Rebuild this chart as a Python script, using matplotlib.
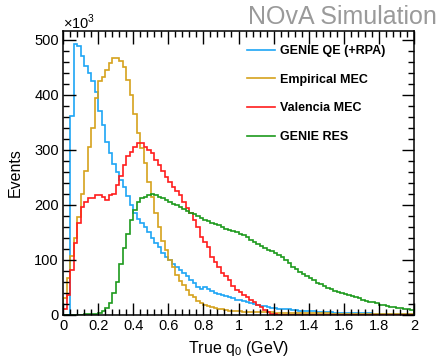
import numpy as np
import matplotlib
matplotlib.use("Agg")
import matplotlib.pyplot as plt
from matplotlib.ticker import MultipleLocator

plt.rcParams['font.family'] = ['Liberation Sans', 'DejaVu Sans']
plt.rcParams['mathtext.fontset'] = 'custom'
plt.rcParams['mathtext.rm'] = 'Liberation Sans'

# 100 bins of 0.02 GeV, values in thousands of events
edges = np.linspace(0, 2, 101)

qe = [0, 0, 362, 493, 488, 470, 452, 440, 425, 405,
      370, 345, 315, 295, 275, 260, 246, 232, 216, 200,
      185, 175, 167, 160, 150, 140, 130, 124, 112, 106,
      100, 92, 88, 82, 76, 70, 64, 58, 50, 48,
      50, 48, 43, 40, 38, 36, 34, 32, 30, 28,
      27, 25, 23, 21, 20, 18, 17, 16, 14, 13,
      12, 11, 11, 10, 10, 9, 9, 8, 8, 8,
      7, 7, 6, 6, 5, 5, 5, 4, 4, 4,
      4, 3, 3, 3, 3, 3, 3, 3, 2, 2,
      2, 2, 2, 2, 2, 2, 2, 2, 2, 2]

emp_mec = [31, 68, 108, 140, 178, 220, 262, 305, 340, 395,
           425, 432, 445, 457, 467, 467, 462, 450, 427, 400,
           365, 330, 303, 276, 242, 215, 185, 160, 135, 118,
           100, 88, 72, 62, 55, 45, 37, 32, 26, 22,
           19, 16, 14, 12, 11, 10, 9, 8, 8, 7,
           7, 6, 6, 6, 5, 5, 5, 5, 5, 5,
           4, 4, 4, 4, 4, 4, 3, 3, 3, 3,
           3, 3, 3, 3, 3, 3, 2, 2, 2, 2,
           2, 2, 2, 2, 2, 2, 2, 2, 2, 2,
           2, 1, 1, 1, 1, 1, 1, 1, 1, 1]

val_mec = [10, 36, 82, 130, 167, 197, 206, 212, 212, 218,
           218, 215, 209, 218, 220, 236, 253, 273, 288, 297,
           306, 312, 312, 306, 300, 294, 282, 272, 262, 250,
           242, 233, 226, 218, 206, 194, 185, 173, 160, 142,
           133, 124, 106, 96, 88, 76, 70, 64, 52, 46,
           42, 37, 33, 28, 24, 18, 14, 9, 5, 2,
           1, 0, 0, 0, 0, 0, 0, 0, 0, 0,
           0, 0, 0, 0, 0, 0, 0, 0, 0, 0,
           0, 0, 0, 0, 0, 0, 0, 0, 0, 0,
           0, 0, 0, 0, 0, 0, 0, 0, 0, 0]

res = [0, 0, 0, 0, 0, 0, 1, 1, 1, 2,
       3, 7, 12, 22, 40, 60, 92, 122, 148, 173,
       191, 205, 212, 215, 218, 220, 218, 215, 212, 209,
       205, 202, 199, 196, 192, 189, 186, 183, 180, 177,
       173, 170, 168, 165, 163, 160, 157, 155, 152, 150,
       148, 145, 141, 137, 133, 129, 126, 122, 119, 116,
       113, 109, 105, 100, 94, 88, 83, 79, 74, 70,
       67, 63, 59, 56, 52, 49, 47, 44, 42, 40,
       38, 36, 34, 32, 30, 28, 26, 24, 23, 21,
       19, 18, 17, 15, 14, 13, 12, 11, 10, 9]

labels = ["GENIE QE (+RPA)", "Empirical MEC", "Valencia MEC", "GENIE RES"]
colors = ["#1ea5f5", "#d6a21c", "#ff1c1c", "#1c9a1c"]

fig = plt.figure(figsize=(4.4, 3.63), dpi=100)
ax = fig.add_axes([63/440, 1-315/363, (414-63)/440, (315-31)/363])

for vals, lab, col in zip([qe, emp_mec, val_mec, res], labels, colors):
    ax.stairs(vals, edges, color=col, linewidth=1.2, label=lab)

ax.set_xlim(0, 2)
ax.set_ylim(0, 516)
ax.xaxis.set_minor_locator(MultipleLocator(0.04))
ax.yaxis.set_major_locator(MultipleLocator(100))
ax.yaxis.set_minor_locator(MultipleLocator(20))
ax.set_xticks(np.arange(0, 2.01, 0.2))
ax.set_xticklabels(["0", "0.2", "0.4", "0.6", "0.8", "1", "1.2", "1.4", "1.6", "1.8", "2"])
ax.tick_params(which='both', direction='in', top=True, right=True, labelsize=10.5, width=1)
ax.tick_params(which='major', length=9, pad=3)
ax.tick_params(which='minor', length=4.5)
for s in ax.spines.values():
    s.set_linewidth(1.1)

ax.set_xlabel(r"True q$_\mathregular{0}$ (GeV)", fontsize=11.5, labelpad=4)
ax.set_ylabel("Events", fontsize=11.5)
ax.yaxis.set_label_coords(-0.115, 0.5)

ax.text(0.0, 0.995, r"$\times$10$^\mathregular{3}$", transform=ax.transAxes,
        fontsize=10.5, ha='left', va='bottom')
fig.text(437/440, 1-5/363, "NOvA Simulation", color="#9a9a9a", fontsize=18,
         ha='right', va='top')

leg = ax.legend(loc='upper left', bbox_to_anchor=(0.51, 0.968), frameon=False,
                prop={'weight': 'bold', 'size': 9}, handlelength=2.2,
                handletextpad=0.4, labelspacing=1.33, borderaxespad=0)

fig.savefig("out.png", dpi=100)
